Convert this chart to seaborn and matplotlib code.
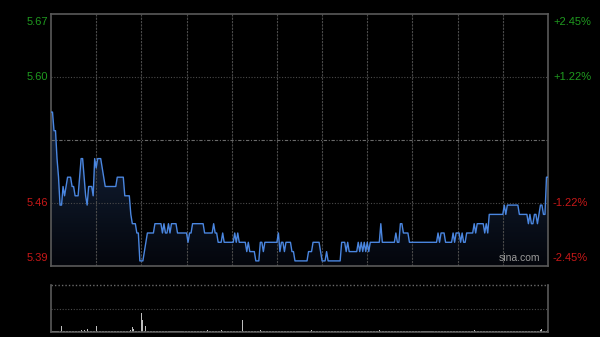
import numpy as np
import pandas as pd
import matplotlib
matplotlib.use("Agg")
import matplotlib.pyplot as plt
import seaborn as sns

# ---------------- data ----------------
prev_close = 5.53
left_labels = ["5.67", "5.60", "5.46", "5.39"]
right_labels = ["+2.45%", "+1.22%", "-1.22%", "-2.45%"]

prices = [
    5.56, 5.56, 5.54, 5.54, 5.51, 5.49, 5.46, 5.46, 5.48, 5.47,
    5.48, 5.49, 5.49, 5.49, 5.48, 5.48, 5.47, 5.47, 5.47, 5.49,
    5.51, 5.51, 5.49, 5.47, 5.46, 5.48, 5.48, 5.48, 5.47, 5.51,
    5.50, 5.51, 5.51, 5.51, 5.50, 5.49, 5.48, 5.48, 5.48, 5.48,
    5.48, 5.48, 5.48, 5.48, 5.49, 5.49, 5.49, 5.49, 5.49, 5.47,
    5.47, 5.47, 5.47, 5.45, 5.44, 5.44, 5.44, 5.43, 5.43, 5.40,
    5.40, 5.40, 5.41, 5.42, 5.43, 5.43, 5.43, 5.43, 5.43, 5.44,
    5.44, 5.44, 5.44, 5.44, 5.43, 5.44, 5.43, 5.43, 5.44, 5.43,
    5.44, 5.44, 5.44, 5.44, 5.43, 5.43, 5.43, 5.43, 5.43, 5.43,
    5.43, 5.42, 5.43, 5.43, 5.44, 5.44, 5.44, 5.44, 5.44, 5.44,
    5.44, 5.44, 5.43, 5.43, 5.43, 5.43, 5.43, 5.43, 5.44, 5.43,
    5.43, 5.42, 5.42, 5.42, 5.43, 5.42, 5.42, 5.42, 5.42, 5.42,
    5.42, 5.42, 5.43, 5.42, 5.43, 5.42, 5.42, 5.42, 5.42, 5.42,
    5.41, 5.42, 5.41, 5.41, 5.41, 5.41, 5.40, 5.40, 5.40, 5.42,
    5.42, 5.41, 5.42, 5.42, 5.42, 5.42, 5.42, 5.42, 5.42, 5.42,
    5.42, 5.43, 5.41, 5.42, 5.42, 5.41, 5.42, 5.42, 5.42, 5.42,
    5.41, 5.41, 5.40, 5.40, 5.40, 5.40, 5.40, 5.40, 5.40, 5.40,
    5.40, 5.41, 5.41, 5.41, 5.42, 5.42, 5.42, 5.42, 5.42, 5.41,
    5.40, 5.40, 5.40, 5.41, 5.40, 5.40, 5.40, 5.40, 5.40, 5.40,
    5.40, 5.40, 5.40, 5.42, 5.42, 5.42, 5.41, 5.42, 5.41, 5.41,
    5.41, 5.41, 5.41, 5.41, 5.42, 5.41, 5.42, 5.41, 5.42, 5.41,
    5.42, 5.41, 5.42, 5.42, 5.42, 5.42, 5.42, 5.42, 5.42, 5.44,
    5.42, 5.42, 5.42, 5.42, 5.42, 5.42, 5.42, 5.42, 5.42, 5.43,
    5.42, 5.42, 5.44, 5.44, 5.43, 5.43, 5.43, 5.43, 5.42, 5.42,
    5.42, 5.42, 5.42, 5.42, 5.42, 5.42, 5.42, 5.42, 5.42, 5.42,
    5.42, 5.42, 5.42, 5.42, 5.42, 5.42, 5.42, 5.43, 5.42, 5.43,
    5.43, 5.43, 5.42, 5.42, 5.42, 5.42, 5.42, 5.43, 5.42, 5.43,
    5.43, 5.43, 5.42, 5.43, 5.42, 5.42, 5.43, 5.43, 5.43, 5.43,
    5.43, 5.44, 5.43, 5.44, 5.44, 5.44, 5.44, 5.44, 5.43, 5.44,
    5.43, 5.45, 5.45, 5.45, 5.45, 5.45, 5.45, 5.45, 5.45, 5.45,
    5.45, 5.46, 5.45, 5.46, 5.46, 5.46, 5.46, 5.46, 5.46, 5.46,
    5.46, 5.45, 5.45, 5.45, 5.45, 5.45, 5.45, 5.44, 5.45, 5.44,
    5.44, 5.45, 5.45, 5.44, 5.45, 5.46, 5.46, 5.45, 5.45, 5.49,
    5.49,
]

volumes = [
    3, 2, 2, 2, 2, 2, 2, 13, 2, 2,
    2, 2, 2, 2, 2, 2, 2, 2, 2, 2,
    4, 2, 5, 3, 6, 3, 2, 2, 2, 2,
    13, 2, 2, 2, 2, 2, 2, 2, 2, 2,
    2, 2, 2, 2, 2, 2, 2, 2, 2, 2,
    2, 2, 2, 5, 10, 6, 2, 2, 2, 3,
    40, 26, 3, 13, 2, 2, 2, 2, 2, 2,
    2, 2, 2, 2, 2, 2, 2, 2, 2, 2,
    2, 2, 2, 2, 2, 3, 2, 2, 2, 2,
    2, 2, 2, 2, 2, 2, 3, 2, 2, 2,
    2, 2, 2, 2, 5, 2, 2, 2, 2, 3,
    2, 2, 2, 4, 2, 2, 2, 2, 2, 2,
    2, 2, 2, 2, 2, 2, 2, 26, 2, 2,
    2, 2, 2, 2, 2, 2, 3, 2, 2, 5,
    2, 2, 2, 2, 2, 2, 2, 2, 2, 2,
    2, 2, 2, 3, 2, 2, 2, 2, 2, 2,
    2, 2, 2, 2, 2, 2, 2, 2, 2, 2,
    2, 2, 2, 5, 2, 2, 2, 2, 2, 2,
    2, 3, 2, 2, 2, 2, 2, 2, 2, 2,
    2, 2, 2, 3, 2, 2, 2, 2, 2, 2,
    2, 2, 2, 2, 2, 2, 3, 2, 2, 2,
    2, 2, 2, 2, 2, 2, 2, 2, 5, 2,
    2, 2, 2, 2, 2, 2, 2, 2, 2, 3,
    2, 2, 3, 2, 2, 2, 2, 2, 2, 2,
    2, 2, 2, 2, 2, 2, 2, 2, 2, 2,
    2, 2, 2, 2, 2, 2, 2, 3, 2, 2,
    2, 2, 2, 2, 2, 2, 2, 2, 2, 2,
    2, 2, 2, 2, 2, 2, 2, 2, 2, 2,
    2, 4, 2, 2, 2, 2, 2, 2, 2, 2,
    2, 3, 2, 2, 2, 2, 2, 2, 2, 2,
    2, 2, 2, 2, 2, 2, 2, 2, 2, 2,
    2, 2, 2, 2, 2, 2, 2, 2, 2, 3,
    2, 2, 2, 2, 2, 5, 6, 2, 3, 2,
    4,
]

minutes = list(range(len(prices)))
df = pd.DataFrame({"minute": minutes, "price": prices, "volume": volumes})

# ---------------- style ----------------
sns.set_theme(style="dark")
plt.rcParams["font.family"] = ["Liberation Sans", "DejaVu Sans"]

BG = "#000000"
BORDER = "#5a5a5a"
GRID = "#4a4a4a"
GREEN = "#1f9a1f"
RED = "#c81818"
LINE = "#4a86e0"

fig = plt.figure(figsize=(6.0, 3.37), dpi=100, facecolor=BG)
ax = fig.add_axes([0.085, 0.2107, 0.8283, 0.7478], facecolor=BG)
axv = fig.add_axes([0.085, 0.0148, 0.8283, 0.1395], facecolor=BG)

span = 0.0245
ylo, yhi = prev_close * (1 - span), prev_close * (1 + span)
gl_hi, gl_lo = prev_close * (1 + span / 2), prev_close * (1 - span / 2)
xmax = len(prices) - 1

# gradient fill under price line
poly = ax.fill_between(df["minute"], df["price"], ylo, color="none", lw=0)
top_price = max(prices)
grad = np.linspace(0, 1, 256).reshape(-1, 1)
c_top = np.array([22, 38, 64]) / 255.0
c_bot = np.array([4, 6, 12]) / 255.0
img = c_bot + (c_top - c_bot) * grad[..., None]
img = np.repeat(img, 2, axis=1)
im = ax.imshow(img, extent=[0, xmax, ylo, top_price], origin="lower",
               aspect="auto", zorder=1, interpolation="bilinear")
im.set_clip_path(poly.get_paths()[0], transform=ax.transData)

sns.lineplot(data=df, x="minute", y="price", ax=ax, color=LINE, lw=1.0,
             zorder=3, estimator=None)

ax.set_xlim(0, xmax)
ax.set_ylim(ylo, yhi)

# grid
for m in range(30, xmax, 30):
    ax.axvline(m, color=GRID, lw=0.8, ls=(0, (2, 1)), zorder=2)
for g in (gl_hi, gl_lo):
    ax.axhline(g, color=GRID, lw=0.8, ls=(0, (1, 1.5)), zorder=2)
ax.axhline(prev_close, color="#6a6a6a", lw=0.8, ls=(0, (3, 1.5, 1, 1.5)), zorder=2)

for s in ax.spines.values():
    s.set_visible(True)
    s.set_color(BORDER)
    s.set_linewidth(1.2)
ax.set_xticks([])
ax.set_yticks([])
ax.set_xlabel("")
ax.set_ylabel("")
ax.grid(False)

# price / percent labels
ypos = [yhi, gl_hi, gl_lo, ylo]
vas = ["top", "center", "center", "bottom"]
cols = [GREEN, GREEN, RED, RED]
for yv, va, c, ll, rl in zip(ypos, vas, cols, left_labels, right_labels):
    off = -0.003 if va == "top" else (0.003 if va == "bottom" else 0)
    ax.text(-0.006, yv + off, ll, transform=ax.get_yaxis_transform(),
            ha="right", va=va, color=c, fontsize=8)
    ax.text(1.01, yv + off, rl, transform=ax.get_yaxis_transform(),
            ha="left", va=va, color=c, fontsize=8)

ax.text(0.985, 0.01, "sina.com", transform=ax.transAxes, ha="right",
        va="bottom", color="#9a9a9a", fontsize=7.5, zorder=5)

# ---------------- volume ----------------
sns.barplot(data=df, x="minute", y="volume", ax=axv, native_scale=True,
            color="#bdbdbd", width=0.7, errorbar=None, saturation=1,
            edgecolor="none")
axv.set_xlim(0, xmax)
axv.set_ylim(0, 100)
axv.axhline(50, color=GRID, lw=0.8, ls=(0, (1, 1.5)))
for k in ("left", "right", "bottom"):
    axv.spines[k].set_visible(True)
    axv.spines[k].set_color(BORDER)
    axv.spines[k].set_linewidth(1.2)
axv.spines["top"].set_visible(False)
axv.axhline(100, color="#6a6a6a", lw=1.0, ls=(0, (1, 1.5)), clip_on=False)
axv.set_xticks([])
axv.set_yticks([])
axv.set_xlabel("")
axv.set_ylabel("")
axv.grid(False)

fig.savefig("out.png", dpi=100, facecolor=BG)
